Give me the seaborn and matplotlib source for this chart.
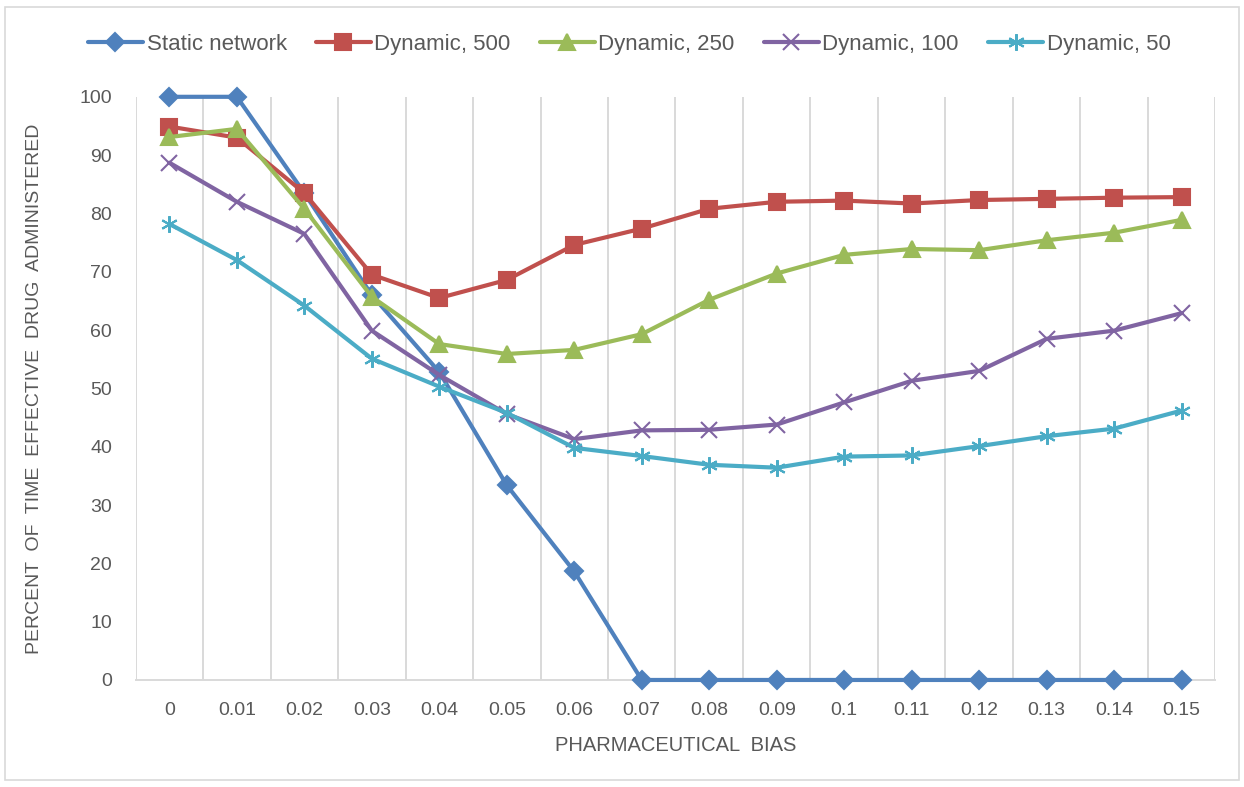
import matplotlib
matplotlib.use("Agg")
import matplotlib.pyplot as plt
import matplotlib.patches as mpatches
import numpy as np
import pandas as pd
import seaborn as sns

bias_labels = ['0', '0.01', '0.02', '0.03', '0.04', '0.05', '0.06', '0.07',
               '0.08', '0.09', '0.1', '0.11', '0.12', '0.13', '0.14', '0.15']

static_network = [100, 100, 83.5, 66, 52.8, 33.4, 18.6, 0, 0, 0, 0, 0, 0, 0, 0, 0]
dynamic_500 = [94.9, 93.0, 83.5, 69.5, 65.5, 68.6, 74.6, 77.4, 80.8, 82.0, 82.2, 81.7, 82.3, 82.5, 82.7, 82.8]
dynamic_250 = [93.1, 94.5, 80.8, 65.7, 57.6, 55.9, 56.6, 59.3, 65.2, 69.7, 72.9, 73.9, 73.7, 75.4, 76.7, 78.9]
dynamic_100 = [88.7, 82.0, 76.5, 59.9, 52.3, 45.6, 41.3, 42.8, 42.9, 43.8, 47.6, 51.3, 53.0, 58.5, 59.9, 62.9]
dynamic_50 = [78.2, 72.0, 64.2, 55.1, 50.3, 45.8, 39.8, 38.4, 36.9, 36.4, 38.3, 38.5, 40.1, 41.8, 43.1, 46.2]

series_names = ['Static network', 'Dynamic, 500', 'Dynamic, 250', 'Dynamic, 100', 'Dynamic, 50']
series_values = [static_network, dynamic_500, dynamic_250, dynamic_100, dynamic_50]

colors = ['#4F81BD', '#C0504D', '#9BBB59', '#8064A2', '#4BACC6']
markers = ['D', 's', '^', 'x', (6, 2, 0)]
msizes = [9.5, 11, 11.5, 11, 12]

sns.set_style("white")
plt.rcParams['font.family'] = ['Liberation Sans', 'DejaVu Sans']
text_color = '#595959'

fig = plt.figure(figsize=(12.44, 7.87), dpi=100)
ax = fig.add_axes([0.109, 0.136, 0.868, 0.741])

pos = np.arange(len(bias_labels))
for name, vals, c, m, ms in zip(series_names, series_values, colors, markers, msizes):
    sns.lineplot(x=pos, y=vals, ax=ax, color=c, marker=m, markersize=ms,
                 markeredgecolor=c, markerfacecolor=c, markeredgewidth=1.5,
                 linewidth=3.0, label=name, clip_on=False, zorder=3)

ax.set_xlim(-0.5, len(bias_labels) - 0.5)
ax.set_ylim(0, 100)
ax.set_yticks(np.arange(0, 101, 10))
ax.set_xticks(pos)
ax.set_xticklabels(bias_labels)
ax.set_xticks(np.arange(-0.5, len(bias_labels), 1), minor=True)
ax.grid(axis='x', which='minor', color='#D9D9D9', linewidth=1.4)
ax.grid(axis='x', which='major', visible=False)
ax.tick_params(axis='both', which='both', length=0, colors=text_color, labelsize=14)
ax.tick_params(axis='x', pad=16)
ax.tick_params(axis='y', pad=17)

for s in ['top', 'right', 'left']:
    ax.spines[s].set_visible(False)
ax.spines['bottom'].set_color('#D9D9D9')
ax.spines['bottom'].set_linewidth(1.4)

ax.set_xlabel('PHARMACEUTICAL  BIAS', color=text_color, fontsize=14.5, labelpad=12)
ax.set_ylabel('PERCENT  OF  TIME  EFFECTIVE  DRUG  ADMINISTERED', color=text_color,
              fontsize=14, labelpad=26)

ax.legend(loc='center', bbox_to_anchor=(0.457, 1.09), ncol=5, frameon=False,
          fontsize=16, handlelength=2.5, columnspacing=1.3, handletextpad=0.15,
          labelcolor=text_color)

fig.patches.append(mpatches.Rectangle((0.004, 0.009), 0.992, 0.982, transform=fig.transFigure,
                                      fill=False, edgecolor='#D9D9D9', linewidth=1.2))

fig.savefig('out.png', dpi=100)
